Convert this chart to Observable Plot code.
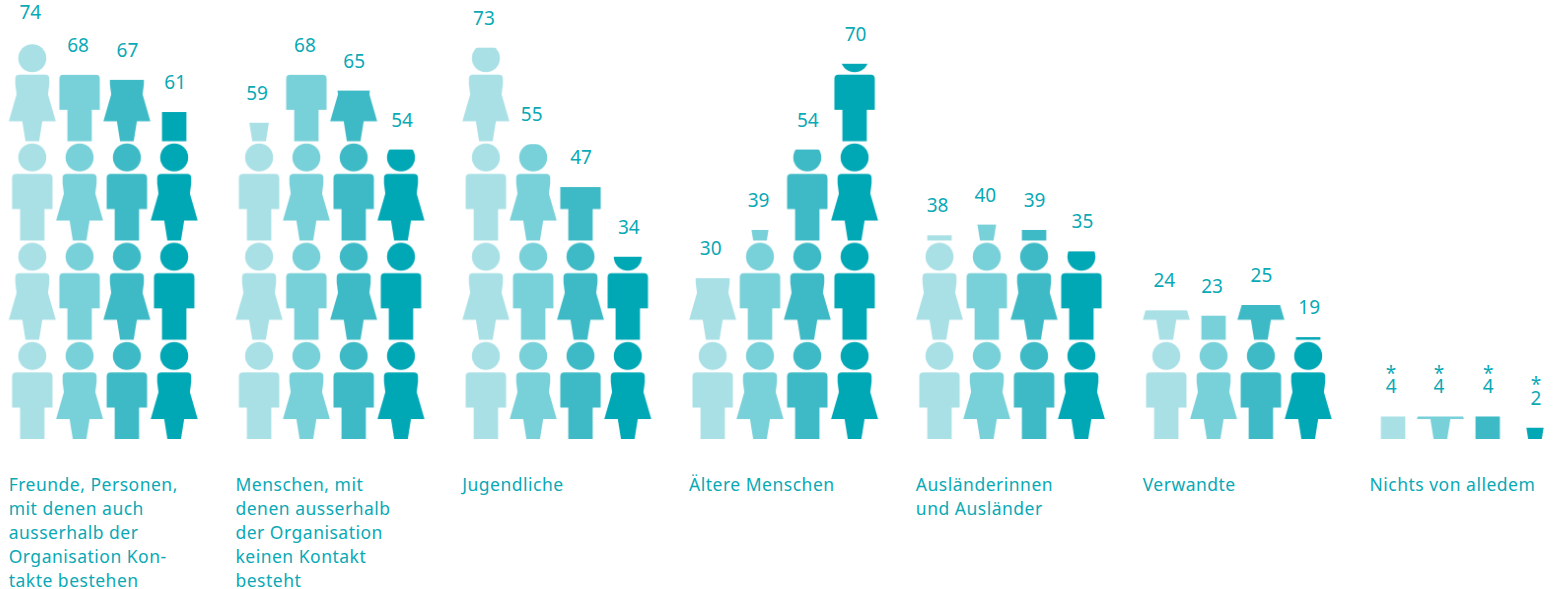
<!DOCTYPE html>
<html lang="de">
<head>
<meta charset="utf-8">
<style>
html,body{margin:0;padding:0;background:#fff;overflow:hidden}
svg{display:block}
svg g[font-size="17.5"] text{letter-spacing:0.5px}
</style>
<script src="https://cdn.jsdelivr.net/npm/d3@7"></script>
<script src="https://cdn.jsdelivr.net/npm/@observablehq/plot@0.6"></script>
</head>
<body>
<div id="chart"></div>
<script>
const groups = [
  "Freunde, Personen,\nmit denen auch\nausserhalb der\nOrganisation Kon-\ntakte bestehen",
  "Menschen, mit\ndenen ausserhalb\nder Organisation\nkeinen Kontakt\nbesteht",
  "Jugendliche",
  "Ältere Menschen",
  "Ausländerinnen\nund Ausländer",
  "Verwandte",
  "Nichts von alledem"
];
const series = ["a", "b", "c", "d"];
const seriesColors = ["#a8e0e5", "#78d0d8", "#3dbac5", "#00a7b5"];
const startsWith = ["male", "female", "male", "female"];
const labelShift = [-2.5, -2, 0, 0.5];
const valuesA = [74, 59, 73, 30, 38, 24, 4.2];
const valuesB = [68, 68, 55, 39, 40, 23, 4.2];
const valuesC = [67, 65, 47, 54, 39, 25, 4.2];
const valuesD = [61, 54, 34, 70, 35, 19, 2.1];
const labelsA = ["74", "59", "73", "30", "38", "24", "*\n4"];
const labelsB = ["68", "68", "55", "39", "40", "23", "*\n4"];
const labelsC = ["67", "65", "47", "54", "39", "25", "*\n4"];
const labelsD = ["61", "54", "34", "70", "35", "19", "*\n2"];
const allValues = [valuesA, valuesB, valuesC, valuesD];
const allLabels = [labelsA, labelsB, labelsC, labelsD];

const rows = groups.flatMap((g, i) => series.map((s, j) => ({
  group: g, series: s, value: allValues[j][i], label: allLabels[j][i], index: j
})));

const textColor = "#0aa9b6";
const font = "'Noto Sans', sans-serif";

const plot = Plot.plot({
  width: 1556,
  height: 589,
  marginTop: 0,
  marginLeft: 8.65,
  marginRight: -2.65,
  marginBottom: 150,
  style: {background: "#fff", fontFamily: font},
  fx: {domain: groups, axis: null, paddingInner: 37.6 / 226.8, paddingOuter: 0, align: 0, round: false, label: null},
  x: {domain: series, axis: null, padding: 0, round: false, label: null},
  y: {domain: [0, 439 / 5.36], range: [439, 0], axis: null, label: null},
  marks: [
    Plot.barY(rows, {
      fx: "group", x: "series", y: "value",
      fill: d => `url(#person-${d.series})`
    }),
    series.map((s, j) => Plot.text(rows.filter(d => d.series === s), {
      fx: "group", x: "series", y: "value", text: "label",
      lineAnchor: "bottom", dx: labelShift[j], dy: -23.5, lineHeight: 0.72,
      fontSize: 19, fill: textColor, fontFamily: font
    })),
    Plot.text(groups, {
      fx: d => d, text: d => d,
      frameAnchor: "bottom-left", lineAnchor: "top",
      dx: -0.5, dy: 34, lineHeight: 24 / 17.5,
      fontSize: 17.5, fill: textColor, fontFamily: font,
      textAnchor: "start"
    })
  ]
});

// Silhouettes tile a pattern; each bar reveals as much of its column as its value reaches.
const MALE = "M-16.2,-66.5H16.2Q20.2,-66.5 20.2,-62.5V-31.3H12.2V0H-12.2V-31.3H-20.2V-62.5Q-20.2,-66.5 -16.2,-66.5Z";
const FEMALE = "M-13,-66.5H13Q17,-66.5 17,-62.5V-57L15.7,-47L23.5,-20H10L6.8,0H-6.8L-10,-20H-23.5L-15.7,-47L-17,-57V-62.5Q-17,-66.5 -13,-66.5Z";
const PITCH = 99.25, HEAD_Y = -83, HEAD_R = 14;
const xs = plot.scale("x"), ys = plot.scale("y");
const root = d3.select(plot);
const defs = root.insert("defs", ":first-child");
series.forEach((s, j) => {
  const w = xs.bandwidth;
  const p = defs.append("pattern")
    .attr("id", `person-${s}`)
    .attr("patternUnits", "userSpaceOnUse")
    .attr("x", xs.apply(s))
    .attr("y", ys.apply(0) - 2 * PITCH)
    .attr("width", w)
    .attr("height", 2 * PITCH);
  const order = startsWith[j] === "male" ? [MALE, FEMALE] : [FEMALE, MALE];
  order.forEach((shape, k) => {
    const g = p.append("g")
      .attr("fill", seriesColors[j])
      .attr("transform", `translate(${w / 2},${2 * PITCH - k * PITCH})`);
    g.append("path").attr("d", shape);
    g.append("circle").attr("cy", HEAD_Y).attr("r", HEAD_R);
  });
});
document.getElementById("chart").append(plot);
</script>
</body>
</html>
